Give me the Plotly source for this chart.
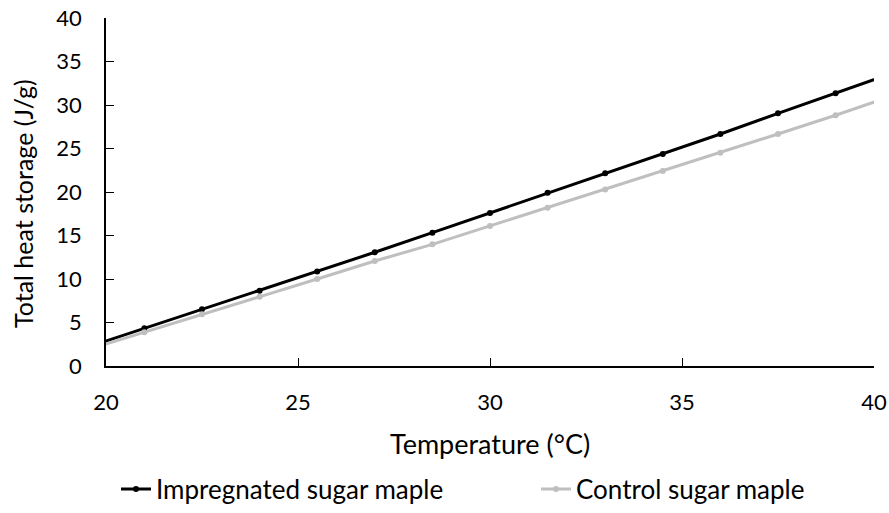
import plotly.graph_objects as go

temperature = [19.5, 21, 22.5, 24, 25.5, 27, 28.5, 30, 31.5, 33, 34.5, 36, 37.5, 39, 40.5]
impregnated = [2.15, 4.33, 6.51, 8.66, 10.85, 13.07, 15.33, 17.6, 19.92, 22.15, 24.37, 26.67, 29.04, 31.34, 33.68]
control = [1.85, 3.87, 5.94, 7.97, 10.0, 12.07, 13.98, 16.1, 18.2, 20.3, 22.4, 24.52, 26.67, 28.82, 31.1]
x_ticks = [20, 25, 30, 35, 40]
y_ticks = [0, 5, 10, 15, 20, 25, 30, 35, 40]
x_title = "Temperature (°C)"
y_title = "Total heat storage (J/g)"

FONT = "Lato"

fig = go.Figure()
fig.add_trace(go.Scatter(
    x=temperature, y=impregnated, mode="lines+markers", name="Impregnated sugar maple",
    line=dict(color="#000000", width=3), marker=dict(color="#000000", size=6),
    legend="legend",
))
fig.add_trace(go.Scatter(
    x=temperature, y=control, mode="lines+markers", name="Control sugar maple",
    line=dict(color="#BFBFBF", width=3), marker=dict(color="#BFBFBF", size=6),
    legend="legend2",
))

axis_common = dict(
    showgrid=False, zeroline=False, showline=True, linecolor="#000000", linewidth=1.5,
    ticks="inside", ticklen=8, tickwidth=1, tickcolor="#000000", automargin=False,
    tickfont=dict(family=FONT, size=22, color="#000000"),
)

legend_common = dict(
    orientation="h", xref="container", xanchor="left",
    yref="container", y=(513 - 489) / 513, yanchor="middle",
    font=dict(family=FONT, size=26, color="#000000"), bgcolor="rgba(0,0,0,0)",
)

fig.update_layout(
    width=889, height=513,
    margin=dict(l=106, r=15, t=18, b=147),
    paper_bgcolor="white", plot_bgcolor="white",
    font=dict(family=FONT, size=22, color="#000000"),
    xaxis=dict(range=[20, 40], tickvals=x_ticks, ticktext=[str(v) for v in x_ticks],
               ticklabelstandoff=16, **axis_common),
    yaxis=dict(range=[0, 40], tickvals=y_ticks, ticktext=[str(v) for v in y_ticks],
               ticklabelstandoff=18, **axis_common),
    legend=dict(x=116 / 889, **legend_common),
    legend2=dict(x=536 / 889, **legend_common),
    showlegend=True,
    annotations=[
        dict(text=x_title, xref="paper", x=0.5, yref="paper", y=-(443 - 366) / 348,
             xanchor="center", yanchor="middle", showarrow=False,
             font=dict(family=FONT, size=27, color="#000000")),
        dict(text=y_title, xref="paper", x=-(106 - 23) / 768, yref="paper", y=(366 - 204) / 348,
             xanchor="center", yanchor="middle", textangle=-90, showarrow=False,
             font=dict(family=FONT, size=25, color="#000000")),
    ],
)
fig.update_traces(cliponaxis=True)

fig.write_html("out.html", config={"displayModeBar": False},
               post_script="document.body.style.margin='0';")
